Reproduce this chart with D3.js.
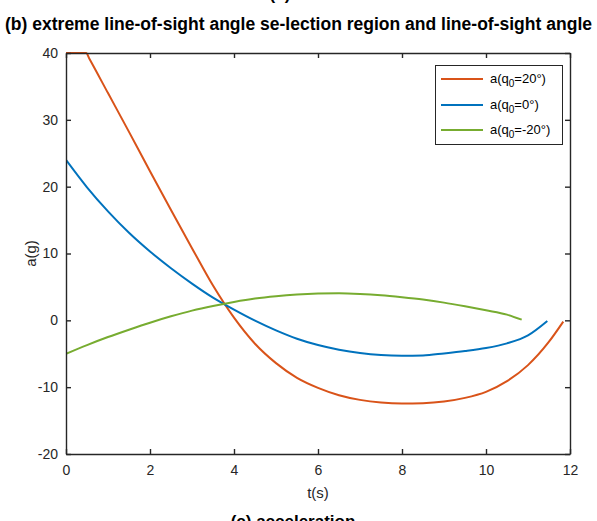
<!DOCTYPE html>
<html>
<head>
<meta charset="utf-8">
<script src="https://cdn.jsdelivr.net/npm/d3@7"></script>
<style>
  html, body { margin: 0; padding: 0; background: #fff; }
  svg { display: block; font-family: "Liberation Sans", Arial, Helvetica, sans-serif; }
</style>
</head>
<body>
<svg id="chart" width="597" height="521"></svg>
<script>
// Acceleration histories a(t) for three initial line-of-sight angles q0
const tOrange = [0, 0.48, 0.56, 1, 1.5, 2, 2.5, 3, 3.5, 4, 4.5, 5, 5.5, 6, 6.5, 7, 7.5, 8, 8.5, 9, 9.5, 10, 10.5, 11, 11.5, 11.84];
const aOrange = [40, 40, 39.1, 34, 28.2, 22.3, 16.5, 10.8, 5.2, 0.4, -3.5, -6.4, -8.6, -10.1, -11.2, -11.9, -12.3, -12.45, -12.4, -12.15, -11.6, -10.7, -9.1, -6.7, -3.2, -0.2];

const tBlue = [0, 0.5, 1, 1.5, 2, 2.5, 3, 3.5, 4, 4.5, 5, 5.5, 6, 6.5, 7, 7.5, 8, 8.5, 9, 9.5, 10, 10.5, 11, 11.46];
const aBlue = [24, 19.9, 16.3, 13.1, 10.3, 7.8, 5.5, 3.4, 1.6, -0.05, -1.5, -2.75, -3.7, -4.4, -4.9, -5.2, -5.3, -5.25, -4.95, -4.6, -4.15, -3.45, -2.25, -0.1];

const tGreen = [0, 0.5, 1, 1.5, 2, 2.5, 3, 3.5, 4, 4.5, 5, 5.5, 6, 6.5, 7, 7.5, 8, 8.5, 9, 9.5, 10, 10.5, 10.85];
const aGreen = [-5.0, -3.7, -2.5, -1.4, -0.35, 0.6, 1.45, 2.15, 2.75, 3.25, 3.6, 3.85, 4.0, 4.05, 3.95, 3.75, 3.45, 3.1, 2.65, 2.1, 1.5, 0.85, 0.1];

const seriesNames = ["20°", "0°", "-20°"];
const xTicks = [0, 2, 4, 6, 8, 10, 12];
const yTicks = [-20, -10, 0, 10, 20, 30, 40];

const titleText = "(b) extreme line-of-sight angle se-lection region and line-of-sight angle";
const nextTitle = "(c) acceleration";
const prevTitle = "(a)";

const colors = ["#D95319", "#0072BD", "#77AC30"];
const axisColor = "#262626";

const svg = d3.select("#chart");
const plot = { left: 66, right: 570, top: 53, bottom: 454 };

const x = d3.scaleLinear().domain([0, 12]).range([plot.left, plot.right]);
const y = d3.scaleLinear().domain([-20, 40]).range([plot.bottom, plot.top]);

// panel titles (neighbouring panels sit partly outside the frame)
svg.append("text").attr("x", 280).attr("y", 0)
  .attr("text-anchor", "middle").attr("font-size", 17).attr("font-weight", "bold")
  .attr("fill", "#000").text(prevTitle);
svg.append("text").attr("x", 298.5).attr("y", 30)
  .attr("text-anchor", "middle").attr("font-size", 17.5).attr("font-weight", "bold")
  .attr("textLength", 587).attr("lengthAdjust", "spacingAndGlyphs")
  .attr("fill", "#000").text(titleText);
svg.append("text").attr("x", 293).attr("y", 527)
  .attr("text-anchor", "middle").attr("font-size", 17).attr("font-weight", "bold")
  .attr("fill", "#000").text(nextTitle);

// data lines
const series = [
  { t: tOrange, a: aOrange },
  { t: tBlue, a: aBlue },
  { t: tGreen, a: aGreen }
];
const line = d3.line()
  .x(d => x(d[0]))
  .y(d => y(d[1]))
  .curve(d3.curveMonotoneX);

svg.append("defs").append("clipPath").attr("id", "clip")
  .append("rect").attr("x", plot.left).attr("y", plot.top - 1)
  .attr("width", plot.right - plot.left).attr("height", plot.bottom - plot.top + 2);

const lines = svg.append("g").attr("clip-path", "url(#clip)");
series.forEach((s, i) => {
  lines.append("path")
    .datum(d3.zip(s.t, s.a))
    .attr("fill", "none")
    .attr("stroke", colors[i])
    .attr("stroke-width", 2)
    .attr("stroke-linejoin", "round")
    .attr("d", line);
});

// axes with inward ticks on all four sides
const tickLen = 5;
const fmt = d => String(d);
const bottomAxis = d3.axisBottom(x).tickValues(xTicks).tickFormat(fmt).tickSizeInner(-tickLen).tickSizeOuter(0).tickPadding(11);
const topAxis = d3.axisTop(x).tickValues(xTicks).tickSizeInner(-tickLen).tickSizeOuter(0).tickFormat("");
const leftAxis = d3.axisLeft(y).tickValues(yTicks).tickFormat(fmt).tickSizeInner(-tickLen).tickSizeOuter(0).tickPadding(8);
const rightAxis = d3.axisRight(y).tickValues(yTicks).tickSizeInner(-tickLen).tickSizeOuter(0).tickFormat("");

function styleAxis(g) {
  g.select(".domain").attr("stroke", axisColor).attr("stroke-width", 1.4);
  g.selectAll(".tick line").attr("stroke", axisColor).attr("stroke-width", 1.4);
  g.selectAll(".tick text").attr("fill", axisColor).attr("font-size", 14)
    .attr("font-family", "'Liberation Sans', Arial, sans-serif");
}

svg.append("g").attr("transform", `translate(0,${plot.bottom})`).call(bottomAxis).call(styleAxis);
svg.append("g").attr("transform", `translate(0,${plot.top})`).call(topAxis).call(styleAxis);
svg.append("g").attr("transform", `translate(${plot.left},0)`).call(leftAxis).call(styleAxis);
svg.append("g").attr("transform", `translate(${plot.right},0)`).call(rightAxis).call(styleAxis);

// axis labels
svg.append("text").attr("x", (plot.left + plot.right) / 2).attr("y", 498)
  .attr("text-anchor", "middle").attr("font-size", 15).attr("fill", axisColor).text("t(s)");
svg.append("text")
  .attr("transform", `translate(36,${(plot.top + plot.bottom) / 2}) rotate(-90)`)
  .attr("text-anchor", "middle").attr("font-size", 15).attr("fill", axisColor).text("a(g)");

// legend
const legend = svg.append("g");
legend.append("rect").attr("x", 435.5).attr("y", 65.5).attr("width", 127).attr("height", 79)
  .attr("fill", "#fff").attr("stroke", axisColor).attr("stroke-width", 1);
const rowY = [79, 105, 130];
seriesNames.forEach((name, i) => {
  legend.append("line")
    .attr("x1", 441).attr("x2", 483).attr("y1", rowY[i]).attr("y2", rowY[i])
    .attr("stroke", colors[i]).attr("stroke-width", 2);
  const txt = legend.append("text").attr("x", 490).attr("y", rowY[i] + 4)
    .attr("font-size", 13).attr("fill", "#000");
  txt.append("tspan").text("a(q");
  txt.append("tspan").attr("font-size", 10).attr("dy", 4).text("0");
  txt.append("tspan").attr("dy", -4).text("=" + name + ")");
});
</script>
</body>
</html>
